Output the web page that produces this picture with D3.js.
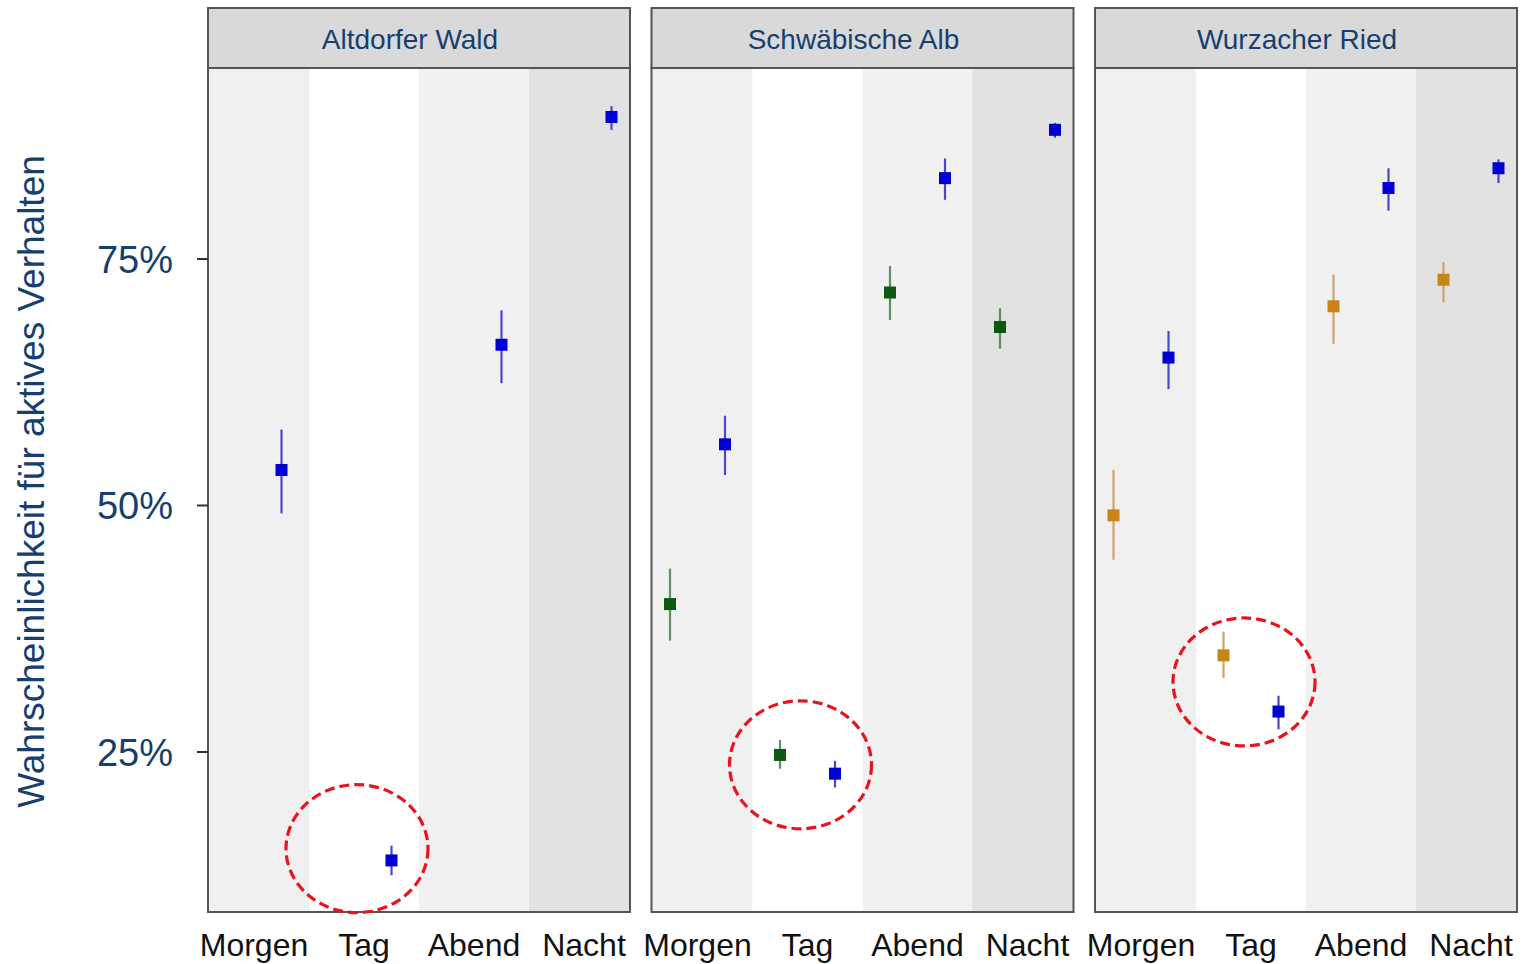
<!DOCTYPE html>
<html><head><meta charset="utf-8">
<script src="https://cdn.jsdelivr.net/npm/d3@7"></script>
<style>html,body{margin:0;padding:0;background:#fff;}svg{display:block;}</style>
</head><body>
<svg id="chart" width="1522" height="964"></svg>
<script>
// ---- data ----
const categories = ["Morgen", "Tag", "Abend", "Nacht"];
const panels = ["Altdorfer Wald", "Schwäbische Alb", "Wurzacher Ried"];
const yTicks = [25, 50, 75];
const yTickLabels = ["25%", "50%", "75%"];
const yTitle = "Wahrscheinlichkeit für aktives Verhalten";

// blue series (right-dodged) per panel
const blueEst = [[53.6, 14.0, 66.3, 89.4], [56.2, 22.8, 83.2, 88.1], [65.0, 29.1, 82.2, 84.2]];
const blueLo  = [[49.2, 12.5, 62.4, 88.1], [53.1, 21.4, 81.0, 87.3], [61.8, 27.3, 79.9, 82.7]];
const blueHi  = [[57.7, 15.5, 69.8, 90.5], [59.1, 24.1, 85.2, 88.8], [67.7, 30.7, 84.2, 85.1]];
// second series (left-dodged) per panel
const otherEst = [null, [40.0, 24.7, 71.6, 68.1], [49.0, 34.8, 70.2, 72.9]];
const otherLo  = [null, [36.3, 23.3, 68.8, 65.9], [44.5, 32.5, 66.4, 70.6]];
const otherHi  = [null, [43.6, 26.2, 74.3, 70.0], [53.6, 37.2, 73.4, 74.7]];
const otherFill = [null, "#0b5a10", "#c8841a"];
const otherLine = [null, "#5f8f5f", "#cfa56a"];
// annotation rings (category + value)
const ringCat = ["Tag", "Tag", "Tag"];
const ringY = [15.2, 23.7, 32.1];

// ---- styling ----
const bandFill = ["#f0f0f0", "#ffffff", "#f1f1f1", "#e2e2e2"];
const blueFill = "#0000d4", blueLine = "#4848c8";
const textBlue = "#163f70";
const frame = "#555555";
const font = "Liberation Sans, Arial, sans-serif";

const svg = d3.select("#chart");
const plotTop = 68, plotBottom = 912, stripTop = 8;

const y = d3.scaleLinear().domain([8.77, 94.37]).range([plotBottom, plotTop]);
const px = d3.scaleBand().domain(panels).range([208, 1517]).paddingInner(0.0485);
const dodge = 27.5;

panels.forEach((name, p) => {
  const x0 = px(name), w = px.bandwidth();
  const x = d3.scalePoint().domain(categories).range([x0 + 46, x0 + w - 46]);
  const step = x.step();
  const g = svg.append("g");

  // background bands
  categories.forEach((c, i) => {
    const l = i === 0 ? x0 : x(c) - step / 2;
    const r = i === categories.length - 1 ? x0 + w : x(c) + step / 2;
    g.append("rect").attr("x", l).attr("y", plotTop).attr("width", r - l)
      .attr("height", plotBottom - plotTop).attr("fill", bandFill[i]);
  });

  // strip
  g.append("rect").attr("x", x0).attr("y", stripTop).attr("width", w)
    .attr("height", plotTop - stripTop).attr("fill", "#d9d9d9")
    .attr("stroke", frame).attr("stroke-width", 2);
  g.append("text").attr("x", x0 + w / 2 - 9).attr("y", 49)
    .attr("text-anchor", "middle").attr("fill", textBlue)
    .style("font-family", font).style("font-size", "28px")
    .text(name);

  // series
  const drawSeries = (est, lo, hi, off, fill, line) => {
    categories.forEach((c, i) => {
      const cx = x(c) + off;
      g.append("line").attr("x1", cx).attr("x2", cx)
        .attr("y1", y(lo[i])).attr("y2", y(hi[i]))
        .attr("stroke", line).attr("stroke-width", 2.2);
      g.append("rect").attr("x", cx - 6).attr("y", y(est[i]) - 6)
        .attr("width", 12).attr("height", 12).attr("fill", fill);
    });
  };
  if (otherEst[p]) drawSeries(otherEst[p], otherLo[p], otherHi[p], -dodge, otherFill[p], otherLine[p]);
  drawSeries(blueEst[p], blueLo[p], blueHi[p], dodge, blueFill, blueLine);

  // panel frame
  g.append("rect").attr("x", x0).attr("y", plotTop).attr("width", w)
    .attr("height", plotBottom - plotTop).attr("fill", "none")
    .attr("stroke", frame).attr("stroke-width", 2);

  // x labels
  categories.forEach(c => {
    g.append("text").attr("x", x(c)).attr("y", 956).attr("text-anchor", "middle")
      .attr("fill", "#111").style("font-family", font)
      .style("font-size", "32px").text(c);
  });

  // annotation ring
  g.append("ellipse").attr("cx", x(ringCat[p]) - 7).attr("cy", y(ringY[p]))
    .attr("rx", 71).attr("ry", 64).attr("fill", "none")
    .attr("stroke", "#e8141c").attr("stroke-width", 3.2)
    .attr("stroke-dasharray", "10,5");
});

// y axis
const x0 = px(panels[0]);
const yAxis = svg.append("g");
yTicks.forEach((t, i) => {
  yAxis.append("line").attr("x1", x0 - 11).attr("x2", x0).attr("y1", y(t)).attr("y2", y(t))
    .attr("stroke", "#333").attr("stroke-width", 2);
  yAxis.append("text").attr("x", x0 - 35).attr("y", y(t)).attr("dy", "0.36em")
    .attr("text-anchor", "end").attr("fill", textBlue)
    .style("font-family", font).style("font-size", "38px")
    .text(yTickLabels[i]);
});
svg.append("text").attr("transform", `translate(44,${(155 + 808) / 2}) rotate(-90)`)
  .attr("text-anchor", "middle").attr("fill", textBlue)
  .style("font-family", font).style("font-size", "37px")
  .text(yTitle);
</script>
</body></html>
